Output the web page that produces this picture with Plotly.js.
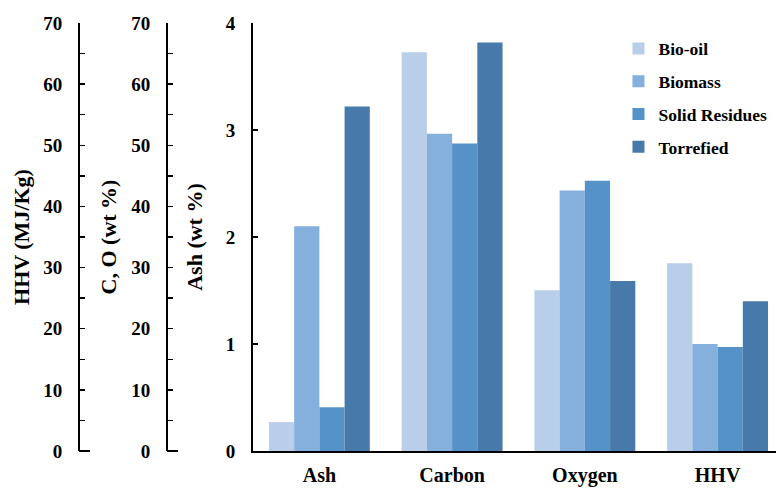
<!DOCTYPE html>
<html>
<head>
<meta charset="utf-8">
<script src="https://cdn.plot.ly/plotly-3.0.1.min.js"></script>
<style>html,body{margin:0;padding:0;background:#fff;}#chart{width:776px;height:489px;}</style>
</head>
<body>
<div id="chart"></div>
<script>
const categories = ['Ash', 'Carbon', 'Oxygen', 'HHV'];
const seriesNames = ['Bio-oil', 'Biomass', 'Solid Residues', 'Torrefied'];
// Ash in wt % (Ash axis), Carbon & Oxygen in wt % (C, O axis), HHV in MJ/Kg (HHV axis)
const bioOil    = [0.27, 65.2, 26.3, 30.7];
const biomass   = [2.10, 51.9, 42.6, 17.5];
const solidRes  = [0.41, 50.3, 44.2, 17.0];
const torrefied = [3.22, 66.8, 27.8, 24.5];
const colors = ['#b9cee9', '#85afdc', '#5592c8', '#477aaa'];

const allSeries = [bioOil, biomass, solidRes, torrefied];
const W = 0.19;
const FONT = 'Liberation Serif, Times New Roman, serif';

const traces = [];
allSeries.forEach((vals, i) => {
  const off = -2 * W + i * W;
  const common = {
    type: 'bar', name: seriesNames[i], legendgroup: seriesNames[i],
    marker: {color: colors[i], line: {width: 0}},
    width: W, offset: off, xaxis: 'x', hoverinfo: 'x+y+name'
  };
  traces.push(Object.assign({}, common, {x: [categories[0]], y: [vals[0]], yaxis: 'y', showlegend: true}));
  traces.push(Object.assign({}, common, {x: [categories[1], categories[2]], y: [vals[1], vals[2]], yaxis: 'y2', showlegend: false}));
  traces.push(Object.assign({}, common, {x: [categories[3]], y: [vals[3]], yaxis: 'y3', showlegend: false}));
});

const tickFont = {family: FONT, size: 19, color: '#000', weight: 'bold'};
const titleFont = {family: FONT, size: 22, color: '#000', weight: 'bold'};

const x0 = 253 / 776;
const layout = {
  width: 776, height: 489,
  margin: {l: 0, r: 0, t: 23, b: 38},
  paper_bgcolor: '#fff', plot_bgcolor: 'rgba(0,0,0,0)',
  barmode: 'overlay',
  showlegend: true,
  legend: {x: 0.797, y: 0.982, xanchor: 'left', yanchor: 'top', bgcolor: 'rgba(0,0,0,0)',
           font: {family: FONT, size: 17.5, color: '#000', weight: 'bold'}, tracegroupgap: 7},
  xaxis: {domain: [x0, 1], type: 'category', categoryorder: 'array', categoryarray: categories,
          range: [-0.5, 3.44], showline: true, linecolor: '#000', linewidth: 2, ticks: '',
          tickfont: {family: FONT, size: 20, color: '#000', weight: 'bold'}, ticklabelstandoff: 5,
          showgrid: false, zeroline: false, automargin: false, fixedrange: true},
  yaxis: {range: [0, 4], dtick: 1, showline: true, linecolor: '#000', linewidth: 2,
          ticks: 'inside', ticklen: 5, tickwidth: 1.5, tickcolor: '#000',
          tickfont: tickFont, ticklabelstandoff: 12, showgrid: false, zeroline: false,
          title: {text: 'Ash (wt %)', font: titleFont, standoff: 17}, automargin: false},
  yaxis2: {range: [0, 70], dtick: 10, overlaying: 'y', anchor: 'free', position: 167 / 776, side: 'left',
           showline: true, linecolor: '#000', linewidth: 2,
           ticks: 'inside', ticklen: 5, tickwidth: 1.5, tickcolor: '#000',
           minor: {dtick: 5, ticks: 'inside', ticklen: 5, tickwidth: 1.5, tickcolor: '#000'},
           tickfont: tickFont, ticklabelstandoff: 12, showgrid: false, zeroline: false,
           title: {text: 'C, O (wt %)', font: titleFont, standoff: 8}, automargin: false},
  yaxis3: {range: [0, 70], dtick: 10, overlaying: 'y', anchor: 'free', position: 79 / 776, side: 'left',
           showline: true, linecolor: '#000', linewidth: 2,
           ticks: 'inside', ticklen: 5, tickwidth: 1.5, tickcolor: '#000',
           minor: {dtick: 5, ticks: 'inside', ticklen: 5, tickwidth: 1.5, tickcolor: '#000'},
           tickfont: tickFont, ticklabelstandoff: 12, showgrid: false, zeroline: false,
           title: {text: 'HHV (MJ/Kg)', font: titleFont, standoff: 7}, automargin: false},
  shapes: [
    {type: 'line', xref: 'paper', yref: 'paper', x0: 79 / 776, x1: 90 / 776, y0: 0, y1: 0, line: {color: '#000', width: 2}},
    {type: 'line', xref: 'paper', yref: 'paper', x0: 167 / 776, x1: 178 / 776, y0: 0, y1: 0, line: {color: '#000', width: 2}}
  ]
};

Plotly.newPlot('chart', traces, layout, {displayModeBar: false, staticPlot: true});
</script>
</body>
</html>
